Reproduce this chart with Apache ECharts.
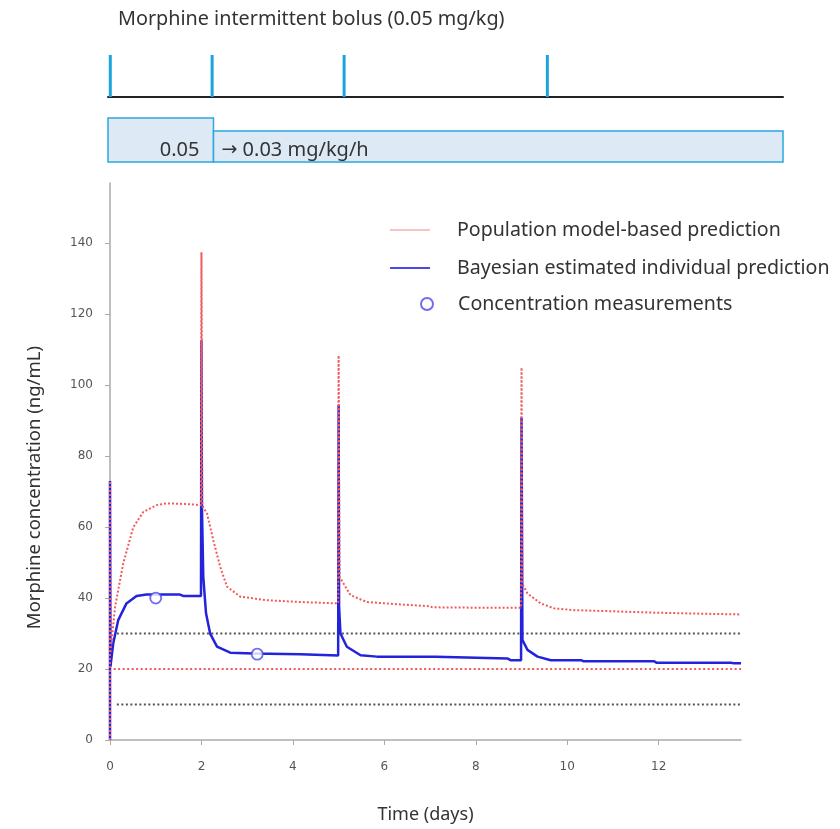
<!DOCTYPE html>
<html>
<head>
<meta charset="utf-8">
<script src="https://cdn.jsdelivr.net/npm/echarts@6/dist/echarts.min.js"></script>
<style>html,body{margin:0;padding:0;background:#fff}#c{width:840px;height:829px}</style>
</head>
<body>
<div id="c"></div>
<script>
// ---- data ----
const yTicks = [0, 20, 40, 60, 80, 100, 120, 140];
const popPred = [[0,0],[0,73],[0.01,24.5],[0.11,37.5],[0.29,49.8],[0.51,60],[0.73,64.3],[1.02,66.2],[1.24,66.7],[1.68,66.5],[1.99,66.2],
  [2.0,137.5],[2.02,66],[2.12,63.9],[2.26,56.3],[2.41,48.8],[2.56,43.2],[2.85,40.4],[3.43,39.4],[4.16,38.9],[4.99,38.5],
  [5.0,108.4],[5.02,46],[5.26,40.8],[5.62,38.9],[6.35,38.2],[7.0,37.7],[7.05,37.4],[7.95,37.3],[8.99,37.3],
  [9.0,105],[9.02,44],[9.13,41.3],[9.42,38.5],[9.71,37.1],[10.15,36.6],[10.95,36.3],[11.9,35.9],[12.92,35.6],[13.8,35.4]];
const indPred = [[0,0],[0,73],[0.01,20.7],[0.07,27.2],[0.18,33.8],[0.36,38.5],[0.58,40.6],[0.8,41],[1.53,41],[1.6,40.6],[1.99,40.6],
  [2.0,112.7],[2.01,66],[2.04,46],[2.1,35.7],[2.19,30],[2.34,26.3],[2.63,24.6],[3.14,24.4],[4.16,24.2],[4.2,23.8],[4.99,23.8],
  [5.0,94.4],[5.01,37.6],[5.04,30],[5.18,26.3],[5.48,23.9],[5.84,23.5],[7.12,23.5],[7.15,23.0],[8.69,23.0],[8.76,22.5],[8.99,22.5],
  [9.0,91],[9.02,28.2],[9.13,25.4],[9.35,23.5],[9.64,22.5],[10.3,22.5],[10.35,22.2],[11.9,22.2],[11.95,21.8],[13.58,21.8],[13.65,21.6],[13.8,21.6]];
const measurements = [[1.0,40],[3.22,24.2]];
const refBlack10 = [[0.15,10],[13.8,10]];
const refBlack30 = [[0.15,30],[13.8,30]];
const refRed20 = [[0.08,20],[13.8,20]];
const bolusTimes = [0, 2.23, 5.12, 9.57];
const infusionStart = [-0.05, 2.26];
const infusionEnd = [2.26, 14.73];
const infusionLevel = [1.0, 0.705];
const infusionLabel = ['0.05', '{a|\u2192} 0.03 mg/kg/h'];

const chart = echarts.init(document.getElementById('c'));
const txt = '#333';
const axisGrey = '#aaa';
const redC = '#f05a5a';
const blueC = '#2323dc';
const FONT = 'Noto Sans';

const boxData = infusionStart.map((s, i) => [s, infusionEnd[i], infusionLevel[i], i]);

function legendAt(top, left, name, extra) {
  return Object.assign({
    left: left, top: top, orient: 'vertical', itemWidth: 40, itemHeight: 10,
    textStyle: {fontFamily: FONT, fontSize: 19.6, lineHeight: 20, color: txt, padding: [0, 0, 0, 22]},
    data: [name]
  }, extra || {});
}

chart.setOption({
  animation: false,
  title: {
    text: 'Morphine intermittent bolus (0.05 mg/kg)',
    left: 113, top: 4,
    textStyle: {fontFamily: FONT, fontSize: 19.8, fontWeight: 'normal', color: txt}
  },
  legend: [
    legendAt(215, 385, {name: 'Population model-based prediction', icon: 'path://M0,0H40V1.2H0Z', itemStyle: {color: '#f08a8a'}}),
    legendAt(253, 385, {name: 'Bayesian estimated individual prediction', icon: 'path://M0,0H40V2H0Z', itemStyle: {color: '#4a4ae6'}}),
    legendAt(289, 415, {name: 'Concentration measurements'},
      {itemWidth: 12, itemHeight: 12, textStyle: {fontFamily: FONT, fontSize: 19.6, lineHeight: 20, color: txt, padding: [0, 0, 0, 20]}})
  ],
  graphic: [{
    type: 'text', left: 25, top: 346,
    rotation: Math.PI / 2,
    style: {text: 'Morphine concentration (ng/mL)', fontFamily: FONT, fontSize: 18.5, fill: txt}
  }],
  grid: [
    {left: 110, right: 99, top: 183, bottom: 89},
    {left: 108, right: 57, top: 55, height: 42},
    {left: 108, right: 57, top: 118, height: 44}
  ],
  xAxis: [{
    gridIndex: 0, type: 'value', min: 0, max: 13.8, interval: 2,
    name: 'Time (days)', nameLocation: 'middle', nameGap: 66,
    nameTextStyle: {fontFamily: FONT, fontSize: 18, color: txt},
    axisLine: {lineStyle: {color: axisGrey, width: 1.5}},
    axisTick: {show: true, length: 5, lineStyle: {color: axisGrey}},
    axisLabel: {fontFamily: 'DejaVu Sans', fontSize: 12, color: '#555', margin: 21, showMaxLabel: false},
    splitLine: {show: false}
  }, {
    gridIndex: 1, type: 'value', min: -0.05, max: 14.73,
    axisLine: {lineStyle: {color: '#222', width: 2}},
    axisTick: {show: false}, axisLabel: {show: false}, splitLine: {show: false}
  }, {
    gridIndex: 2, type: 'value', min: -0.05, max: 14.73, show: false
  }],
  yAxis: [{
    gridIndex: 0, type: 'value', min: 0, max: 157,
    axisLine: {show: true, lineStyle: {color: axisGrey, width: 1.5}},
    axisTick: {show: true, length: 5, lineStyle: {color: axisGrey}, customValues: yTicks},
    axisLabel: {fontFamily: 'DejaVu Sans', fontSize: 12, color: '#555', margin: 17, customValues: yTicks},
    splitLine: {show: false}
  }, {
    gridIndex: 1, type: 'value', min: 0, max: 1, show: false
  }, {
    gridIndex: 2, type: 'value', min: 0, max: 1, show: false
  }],
  series: [
    {name: 'ref10', type: 'line', data: refBlack10, showSymbol: false, silent: true,
     lineStyle: {color: '#555', width: 2, type: [2, 2.5]}},
    {name: 'ref30', type: 'line', data: refBlack30, showSymbol: false, silent: true,
     lineStyle: {color: '#555', width: 2, type: [2, 2.5]}},
    {name: 'ref20', type: 'line', data: refRed20, showSymbol: false, silent: true,
     lineStyle: {color: redC, width: 2, type: [2, 2.5]}},
    {name: 'Bayesian estimated individual prediction', type: 'line', data: indPred, showSymbol: false, symbol: 'none',
     lineStyle: {color: blueC, width: 2.5}, itemStyle: {color: blueC}, z: 3},
    {name: 'Population model-based prediction', type: 'line', data: popPred, showSymbol: false, symbol: 'none',
     lineStyle: {color: redC, width: 2, type: [2, 2]}, itemStyle: {color: redC}, z: 4},
    {name: 'Concentration measurements', type: 'scatter', data: measurements, symbol: 'circle', symbolSize: 11,
     itemStyle: {color: '#fff', borderColor: '#4a4af0', borderWidth: 1.8}, z: 5},
    {name: 'bolus', type: 'bar', xAxisIndex: 1, yAxisIndex: 1, barWidth: 3,
     data: bolusTimes.map(t => [t, 1]), itemStyle: {color: '#1aa3dc'}, silent: true},
    {name: 'infusion', type: 'custom', xAxisIndex: 2, yAxisIndex: 2, data: boxData, silent: true,
     renderItem: function (params, api) {
       const p0 = api.coord([api.value(0), 0]);
       const p1 = api.coord([api.value(1), api.value(2)]);
       const idx = api.value(3);
       const label = infusionLabel[idx];
       const textX = idx === 0 ? p1[0] - 14 : p0[0] + 8;
       return {type: 'group', children: [
         {type: 'rect', shape: {x: p0[0], y: p1[1], width: p1[0] - p0[0], height: p0[1] - p1[1]},
          style: {fill: '#dde9f5', stroke: '#2aa8e0', lineWidth: 1.5}},
         {type: 'text', x: textX, y: p0[1] - 12,
          style: {text: label, fontFamily: FONT, fontSize: 20, fill: txt,
                  rich: {a: {fontFamily: 'DejaVu Sans', fontSize: 19, fill: txt}},
                  align: idx === 0 ? 'right' : 'left', verticalAlign: 'middle'}}
       ]};
     }}
  ]
});
</script>
</body>
</html>
